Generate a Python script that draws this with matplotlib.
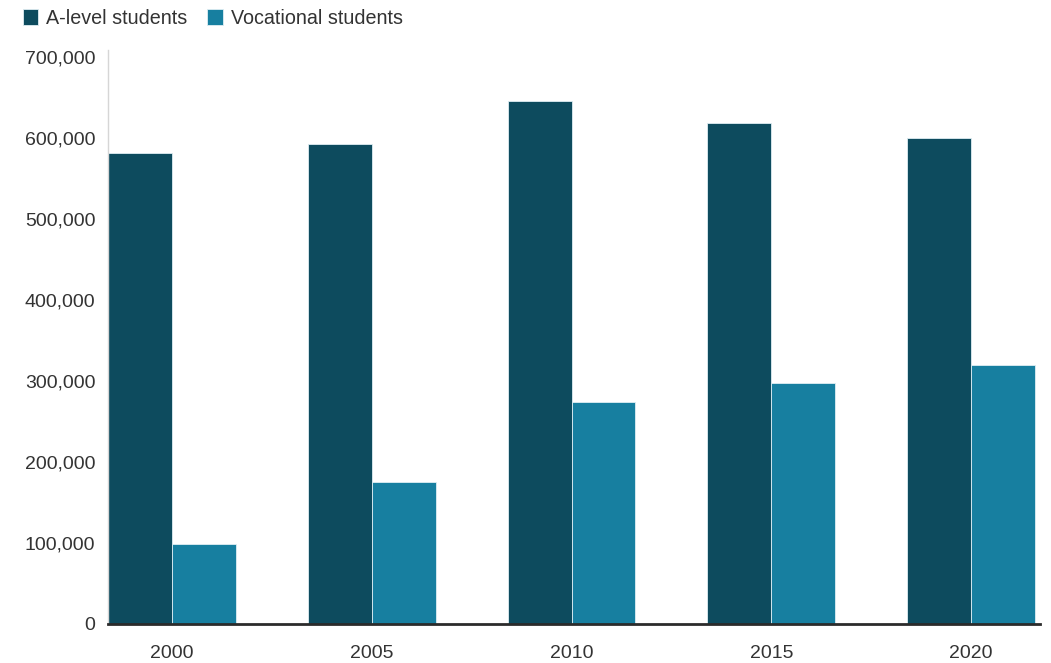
import matplotlib
matplotlib.use("Agg")
import matplotlib.pyplot as plt
import numpy as np
from matplotlib.ticker import FuncFormatter

years = ["2000", "2005", "2010", "2015", "2020"]
a_level = [581000, 592000, 645000, 618000, 600000]
vocational = [99000, 175000, 274000, 298000, 320000]
series_names = ["A-level students", "Vocational students"]
y_ticks = [0, 100000, 200000, 300000, 400000, 500000, 600000, 700000]

dark = "#0d4b5e"
light = "#177fa0"
text_color = "#333333"

plt.rcParams["font.family"] = ["Liberation Sans", "DejaVu Sans"]

W, H = 1051, 663
fig = plt.figure(figsize=(W / 100, H / 100), dpi=100)
ax = fig.add_axes([108 / W, (H - 624) / H, (1040 - 108) / W, (624 - 50) / H])

x = np.arange(len(years))
bw = 0.32
ax.bar(x - bw / 2, a_level, width=bw, color=dark, edgecolor="#dfeef3",
       linewidth=0.6, label=series_names[0], zorder=2)
ax.bar(x + bw / 2, vocational, width=bw, color=light, edgecolor="#dfeef3",
       linewidth=0.6, label=series_names[1], zorder=2)

ax.set_xlim(-0.32, 4.345)
ax.set_ylim(0, 708500)
ax.set_xticks(x)
ax.set_xticklabels(years)
ax.set_yticks(y_ticks)
ax.yaxis.set_major_formatter(FuncFormatter(lambda v, p: f"{int(v):,}"))

for s in ["top", "right"]:
    ax.spines[s].set_visible(False)
ax.spines["left"].set_color("#d6d6d6")
ax.spines["left"].set_linewidth(1.0)
ax.spines["bottom"].set_color("#2b2b2b")
ax.spines["bottom"].set_linewidth(2.0)
ax.spines["bottom"].set_zorder(3)

ax.tick_params(axis="both", length=0, labelsize=14, colors=text_color)
ax.tick_params(axis="y", pad=9)
ax.tick_params(axis="x", pad=15)

fig.legend(loc="upper left", bbox_to_anchor=(0.0075, 1.009), ncol=2, frameon=False,
           fontsize=14.2, handlelength=0.8, handleheight=0.8, handletextpad=0.4,
           columnspacing=1.0, labelcolor=text_color, borderaxespad=0.35)

fig.savefig("out.png", dpi=100, facecolor="white")
